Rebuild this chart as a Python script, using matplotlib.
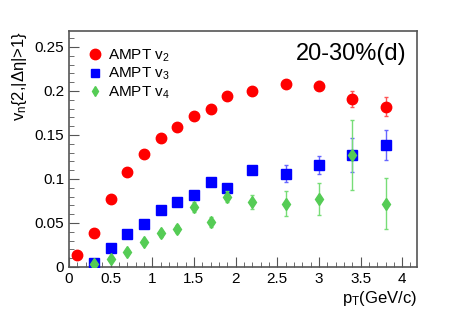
import matplotlib
matplotlib.use("Agg")
import matplotlib.pyplot as plt
from matplotlib.lines import Line2D
from matplotlib.ticker import MultipleLocator

plt.rcParams['font.family'] = ['Liberation Sans', 'DejaVu Sans']
plt.rcParams['mathtext.fontset'] = 'custom'
plt.rcParams['mathtext.rm'] = 'Liberation Sans'
plt.rcParams['mathtext.it'] = 'Liberation Sans'

pt_v2 = [0.1, 0.3, 0.5, 0.7, 0.9, 1.1, 1.3, 1.5, 1.7, 1.9, 2.2, 2.6, 3.0, 3.4, 3.8]
v2 = [0.013, 0.039, 0.077, 0.108, 0.128, 0.147, 0.159, 0.171, 0.179, 0.194, 0.200, 0.208, 0.206, 0.191, 0.182]
v2_err = [0.001, 0.001, 0.001, 0.001, 0.001, 0.001, 0.001, 0.001, 0.002, 0.002, 0.003, 0.004, 0.005, 0.009, 0.011]

pt_vn = [0.3, 0.5, 0.7, 0.9, 1.1, 1.3, 1.5, 1.7, 1.9, 2.2, 2.6, 3.0, 3.4, 3.8]
v3 = [0.005, 0.021, 0.037, 0.049, 0.065, 0.074, 0.082, 0.096, 0.090, 0.110, 0.106, 0.116, 0.127, 0.139]
v3_err = [0.001, 0.001, 0.001, 0.002, 0.002, 0.002, 0.003, 0.003, 0.004, 0.004, 0.010, 0.010, 0.019, 0.017]
v4 = [0.003, 0.009, 0.017, 0.028, 0.038, 0.043, 0.068, 0.051, 0.080, 0.074, 0.072, 0.077, 0.127, 0.072]
v4_err = [0.002, 0.002, 0.003, 0.003, 0.004, 0.005, 0.006, 0.006, 0.006, 0.008, 0.014, 0.018, 0.040, 0.029]

labels = ['AMPT v$_2$', 'AMPT v$_3$', 'AMPT v$_4$']

fig = plt.figure(figsize=(4.63, 3.14), dpi=100)
ax = fig.add_axes([0.149, 0.150, 0.752, 0.751])

ax.errorbar(pt_v2, v2, yerr=v2_err, fmt='o', color='#ff0000', ecolor='#ff5555',
            markersize=7.5, elinewidth=1, capsize=1.5, zorder=3)
ax.errorbar(pt_vn, v3, yerr=v3_err, fmt='s', color='#0000ff', ecolor='#6666ff',
            markersize=7, elinewidth=1, capsize=1.5, zorder=3)
ax.errorbar(pt_vn, v4, yerr=v4_err, fmt='d', color='#55cc55', ecolor='#77dd77',
            markersize=6, elinewidth=1, capsize=1.5, zorder=4)

ax.set_xlim(0, 4.18)
ax.set_ylim(0, 0.268)
ax.xaxis.set_major_locator(MultipleLocator(0.5))
ax.xaxis.set_minor_locator(MultipleLocator(0.1))
ax.yaxis.set_major_locator(MultipleLocator(0.05))
ax.yaxis.set_minor_locator(MultipleLocator(0.01))
ax.set_xticks([0, 0.5, 1, 1.5, 2, 2.5, 3, 3.5, 4])
ax.set_xticklabels(['0', '0.5', '1', '1.5', '2', '2.5', '3', '3.5', '4'])
ax.set_yticks([0, 0.05, 0.1, 0.15, 0.2, 0.25])
ax.set_yticklabels(['0', '0.05', '0.1', '0.15', '0.2', '0.25'])
ax.tick_params(which='both', direction='in', top=False, right=False, labelsize=11, color='#555555')
ax.tick_params(which='major', length=7)
ax.tick_params(which='minor', length=3.5)
for s in ax.spines.values():
    s.set_color('#555555')
    s.set_linewidth(1.2)

ax.set_xlabel('p$_T$(GeV/c)', fontsize=12, loc='right', labelpad=2)
ax.set_ylabel('v$_n${2,|Δη|>1}', fontsize=12, loc='top', labelpad=4)

ax.text(0.97, 0.95, '20-30%(d)', transform=ax.transAxes, ha='right', va='top', fontsize=17)

handles = [
    Line2D([], [], ls='none', marker='o', color='#ff0000', markersize=7.5),
    Line2D([], [], ls='none', marker='s', color='#0000ff', markersize=6),
    Line2D([], [], ls='none', marker='d', color='#55cc55', markersize=5),
]
ax.legend(handles, labels, loc='upper left', bbox_to_anchor=(0.01, 0.99), frameon=False,
          fontsize=11, handletextpad=0.2, labelspacing=0.15, handlelength=1.2)

fig.savefig('out.png', dpi=100)
